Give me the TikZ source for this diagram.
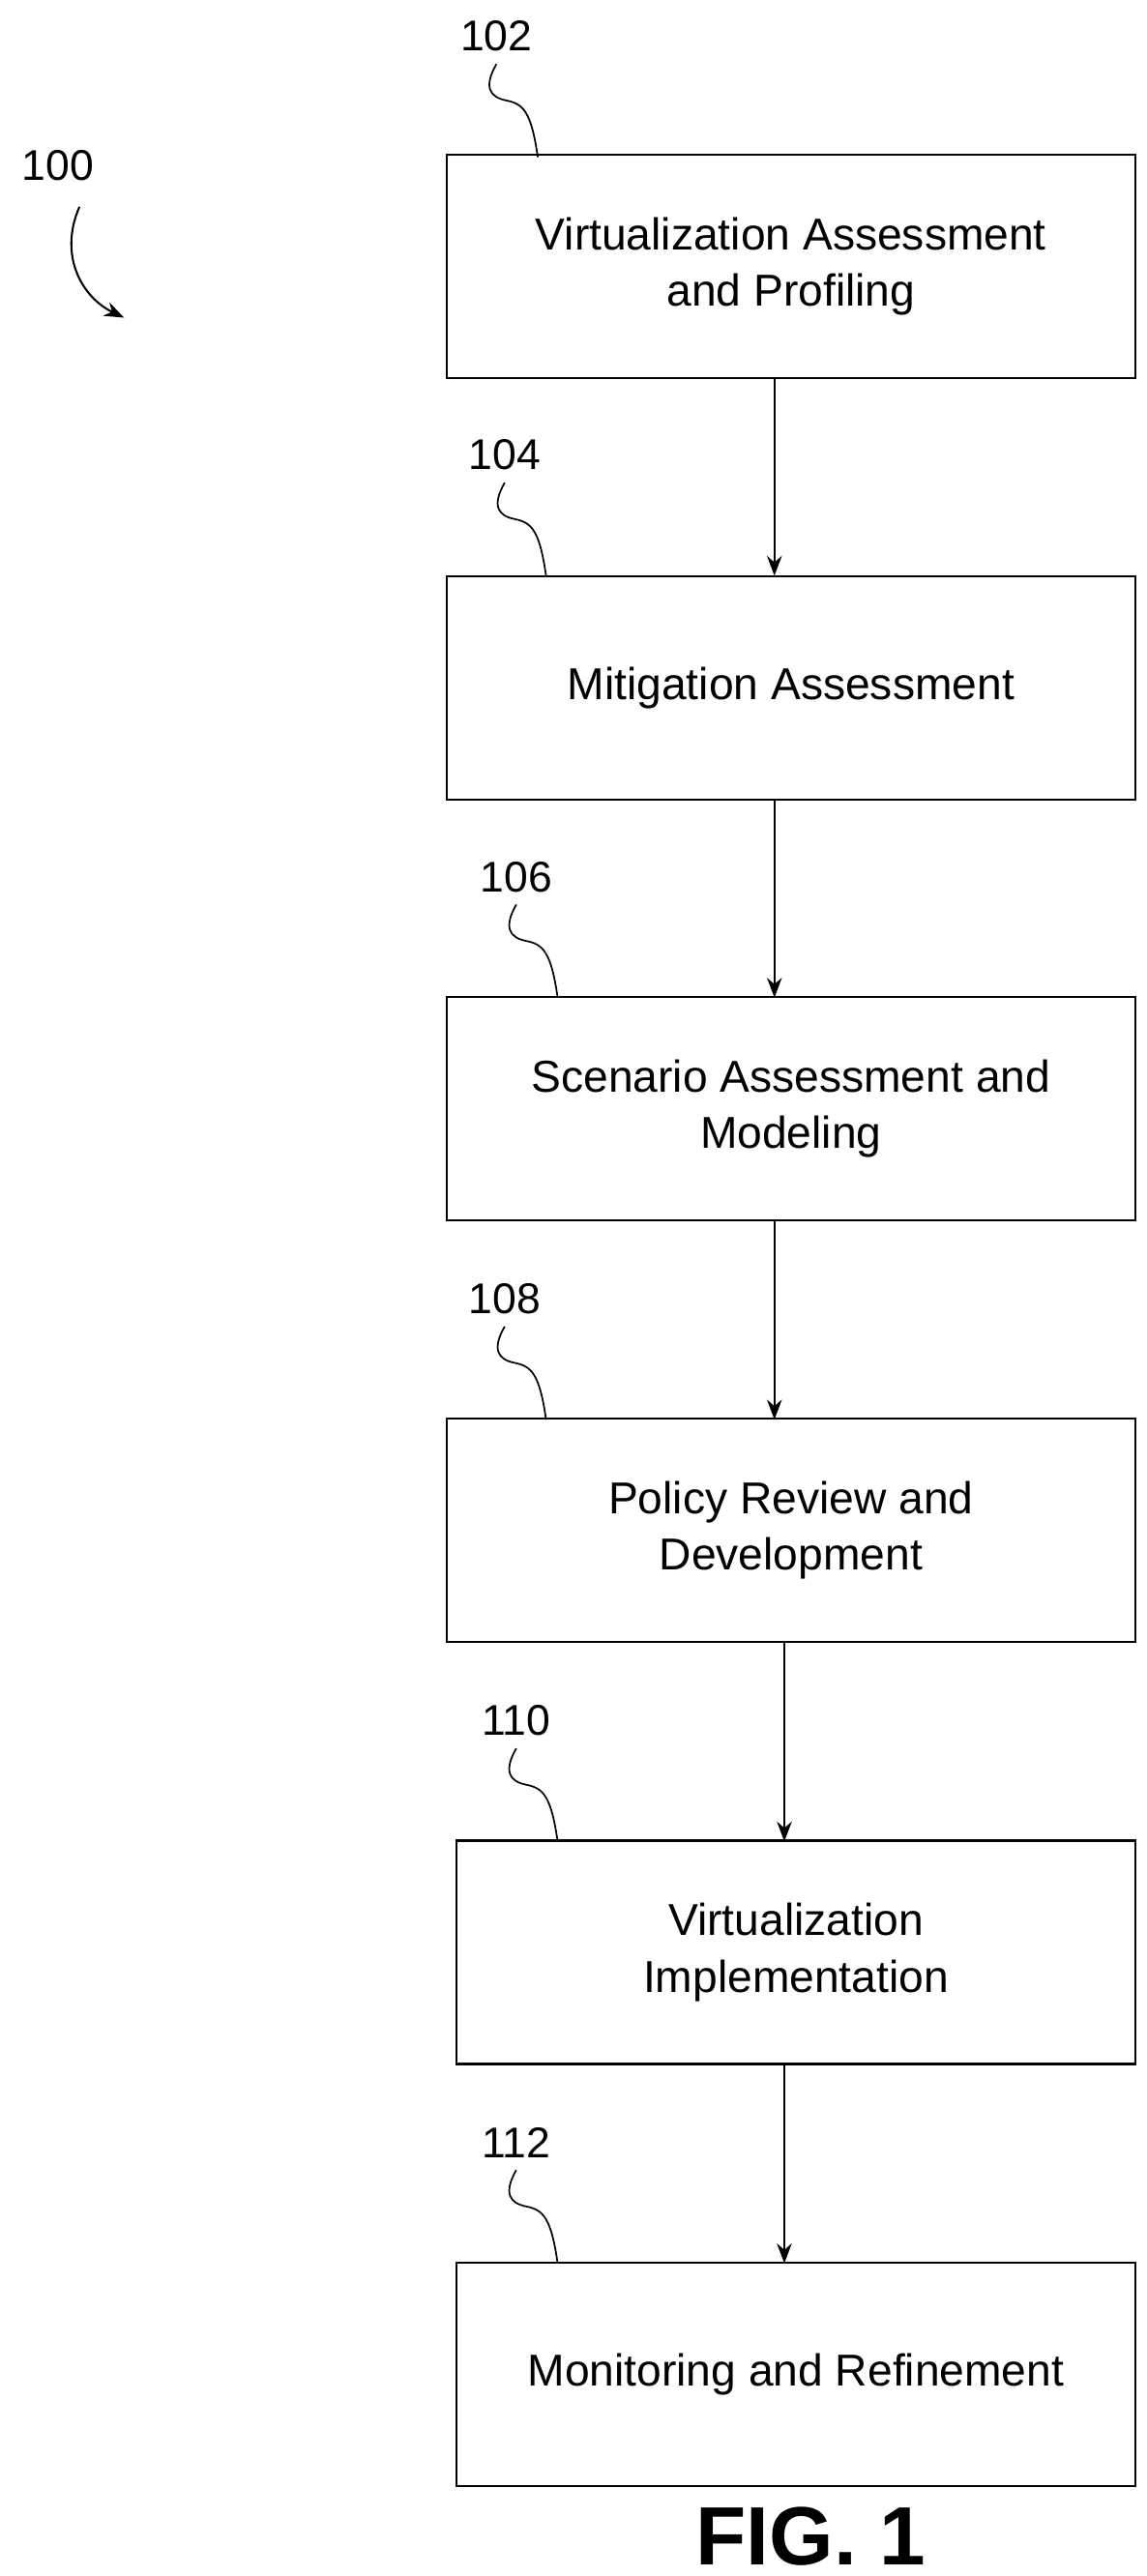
\documentclass[tikz,border=0pt]{standalone}
\usepackage{fontspec}
\setmainfont{Liberation Sans}
\usetikzlibrary{positioning, arrows.meta}
\tikzset{
    >={Stealth[length=12pt,width=9pt]}, % arrow heads
    stage/.style={draw, line width=1.2pt, minimum width=416pt, minimum height=135pt, align=center, font=\fontsize{27}{34}\selectfont},
    flow/.style={->, line width=1.2pt},
    refnum/.style={font=\fontsize{26}{30}\selectfont},
    squig/.style={line width=1pt},
}

\begin{document}
\begin{tikzpicture}[x=1pt, y=-1pt]
    \useasboundingbox (0,0) rectangle (693,1557);

    % Steps
    \node[stage] (s102) at (478,161) {Virtualization Assessment\\and Profiling};
    \node[stage] (s104) at (478,416) {Mitigation Assessment};
    \node[stage] (s106) at (478,670) {Scenario Assessment and\\Modeling};
    \node[stage] (s108) at (478,925) {Policy Review and\\Development};
    \node[stage, minimum width=410pt] (s110) at (481,1180) {Virtualization\\Implementation};
    \node[stage, minimum width=410pt] (s112) at (481,1435) {Monitoring and Refinement};

    % edges
    \draw[flow] (s102.south -| 468,0) -- (468,348);
    \draw[flow] (s104.south -| 468,0) -- (468,603);
    \draw[flow] (s106.south -| 468,0) -- (468,858);
    \draw[flow] (s108.south -| 474,0) -- (474,1113);
    \draw[flow] (s110.south -| 474,0) -- (474,1368);

    % reference numbers
    \foreach \n/\y/\x in {102/95/325, 104/348/330, 106/603/337, 108/858/330, 110/1113/337, 112/1368/337} {
        \node[refnum] (l\n) at (\x-25,\y-73) {\n};
        \coordinate (c\n) at (\x,\y);
        \draw[squig] (l\n.south) ++(0,4) .. controls +(-8,14) and +(-10,-2) .. +(6,22)
            .. controls +(10,2) and +(-4,-28) .. (c\n);
    }

    % figure reference
    \node[refnum] (l100) at (35,100) {100};
    \coordinate (a100) at (75,192);
    \draw[line width=1.2pt, ->] (48,125) .. controls (35,155) and (50,180) .. (a100);

    \node[font=\bfseries\fontsize{50}{56}\selectfont] (fig) at (490,1533) {FIG. 1};
\end{tikzpicture}
\end{document}
